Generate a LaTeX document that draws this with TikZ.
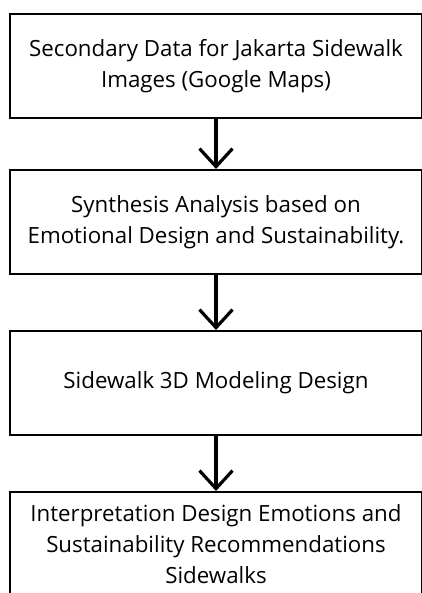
\documentclass[tikz,border=0pt]{standalone}
\usepackage{fontspec}
\setmainfont{Open Sans}
\usepackage{tikz}
\usetikzlibrary{arrows.meta}
\usetikzlibrary{calc}

\begin{document}
\begin{tikzpicture}[x=1pt, y=-1pt,
        box_style/.style={draw=black, line width=2pt, minimum width=412pt, minimum height=104pt, inner sep=0pt, align=center, font=\fontsize{22.3}{31}\selectfont},
        edge_style/.style={draw=black, line width=3.2pt, -{Straight Barb[length=18pt,width=33pt]}}]

        \useasboundingbox (0,0) rectangle (422,593);
        \clip (0,0) rectangle (422,593);

        \node [box_style](b1) at (216,66) {Secondary Data for Jakarta Sidewalk\\Images (Google Maps)};

        \node [box_style](b2) at (216,222) {Synthesis Analysis based on\\Emotional Design and Sustainability.};

        \node [box_style](b3) at (216,383) {Sidewalk 3D Modeling Design};

        \node [box_style](b4) at (216,544) {Interpretation Design Emotions and\\Sustainability Recommendations\\Sidewalks};

        \draw [edge_style] (b1) edge (b2);

        \draw [edge_style] (b2) edge (b3);

        \draw [edge_style] (b3) edge (b4);

        \end{tikzpicture}
\end{document}
